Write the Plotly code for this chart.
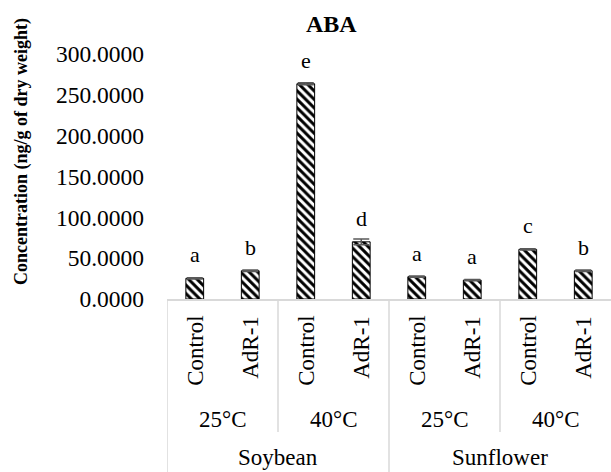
import plotly.graph_objects as go

# ---- data ----
species = ["Soybean", "Soybean", "Soybean", "Soybean",
           "Sunflower", "Sunflower", "Sunflower", "Sunflower"]
temps = ["25°C", "25°C", "40°C", "40°C", "25°C", "25°C", "40°C", "40°C"]
treatments = ["Control", "AdR-1", "Control", "AdR-1",
              "Control", "AdR-1", "Control", "AdR-1"]
values = [25.3, 34.6, 263.5, 70.0, 27.3, 23.2, 60.8, 34.6]
errors = [0.8, 1.0, 1.2, 3.5, 0.8, 0.8, 0.8, 1.0]
letters = ["a", "b", "e", "d", "a", "a", "c", "b"]
y_ticks = [0, 50, 100, 150, 200, 250, 300]

# ---- layout geometry (pixels) ----
W_FIG, H_FIG = 611, 472
L, R, T, B = 167, 0, 54, 173
PW = W_FIG - L - R
PH = H_FIG - T - B
FONT = "Liberation Serif"
GRID = "#d9d9d9"


def px_to_paper_y(py):
    return (H_FIG - B - py) / PH


def px_to_paper_x(px):
    return (px - L) / PW


xs = list(range(len(values)))

fig = go.Figure()
fig.add_trace(go.Bar(
    x=xs, y=values, width=0.32,
    marker=dict(
        color="white",
        line=dict(color="black", width=1),
        pattern=dict(shape="\\", fgcolor="black", bgcolor="white",
                     size=6, solidity=0.5, fillmode="replace"),
    ),
    error_y=dict(type="data", array=errors, visible=True,
                 color="#595959", thickness=1.5, width=8),
    showlegend=False,
))

annotations = []
# significance letters
for x, v, lt in zip(xs, values, letters):
    annotations.append(dict(x=x, y=v, xref="x", yref="y", text=lt,
                            showarrow=False, xanchor="center", yanchor="bottom",
                            yshift=9,
                            font=dict(family=FONT, size=22, color="black")))
# treatment labels (rotated)
for x, tr in zip(xs, treatments):
    annotations.append(dict(x=x, y=px_to_paper_y(314), xref="x", yref="paper",
                            text=tr, showarrow=False, textangle=-90,
                            yanchor="top", xanchor="center",
                            font=dict(family=FONT, size=23, color="black")))


def groups(labels):
    out = []
    start = 0
    for i in range(1, len(labels) + 1):
        if i == len(labels) or labels[i] != labels[start]:
            out.append((labels[start], start, i - 1))
            start = i
    return out


temp_keys = [s + "|" + t for s, t in zip(species, temps)]
temp_groups = groups(temp_keys)
sp_groups = groups(species)

for key, a, b in temp_groups:
    annotations.append(dict(x=(a + b) / 2, y=px_to_paper_y(419), xref="x",
                            yref="paper", text=key.split("|")[1],
                            showarrow=False, xanchor="center", yanchor="middle",
                            font=dict(family=FONT, size=23, color="black")))
for name, a, b in sp_groups:
    annotations.append(dict(x=(a + b) / 2, y=px_to_paper_y(457), xref="x",
                            yref="paper", text=name, showarrow=False,
                            xanchor="center", yanchor="middle",
                            font=dict(family=FONT, size=23, color="black")))

# title and y-axis title
annotations.append(dict(x=px_to_paper_x(331), y=px_to_paper_y(24), xref="paper",
                        yref="paper", text="<b>ABA</b>", showarrow=False,
                        xanchor="center", yanchor="middle",
                        font=dict(family=FONT, size=24, color="black")))
annotations.append(dict(x=px_to_paper_x(21.5), y=px_to_paper_y(151.5),
                        xref="paper", yref="paper",
                        text="<b>Concentration (ng/g of dry weight)</b>",
                        showarrow=False, textangle=-90,
                        xanchor="center", yanchor="middle",
                        font=dict(family=FONT, size=18, color="black")))

# category separators
shapes = []
shapes.append(dict(type="line", xref="x", yref="paper", x0=-0.5, x1=-0.5,
                   y0=0, y1=px_to_paper_y(H_FIG + 5),
                   line=dict(color=GRID, width=1.5)))
for key, a, b in temp_groups[:-1]:
    if species[b] == species[b + 1]:
        shapes.append(dict(type="line", xref="x", yref="paper", x0=b + 0.5,
                           x1=b + 0.5, y0=0, y1=px_to_paper_y(432),
                           line=dict(color=GRID, width=1.5)))
for name, a, b in sp_groups[:-1]:
    shapes.append(dict(type="line", xref="x", yref="paper", x0=b + 0.5,
                       x1=b + 0.5, y0=0, y1=px_to_paper_y(H_FIG + 5),
                       line=dict(color=GRID, width=1.5)))

fig.update_layout(
    width=W_FIG, height=H_FIG, autosize=False,
    margin=dict(l=L, r=R, t=T, b=B, pad=0),
    paper_bgcolor="white", plot_bgcolor="white",
    annotations=annotations, shapes=shapes,
    xaxis=dict(range=[-0.5, len(values) - 0.5], showticklabels=False,
               showgrid=False, zeroline=False, showline=True,
               linecolor=GRID, linewidth=1.5, ticks=""),
    yaxis=dict(range=[0, 300], tickvals=y_ticks, tickformat=".4f",
               showgrid=False, zeroline=False, showline=False, ticks="",
               ticklabelstandoff=22,
               tickfont=dict(family=FONT, size=23.5, color="black")),
    font=dict(family=FONT, color="black"),
)

fig.write_html(
    "out.html",
    config={"displayModeBar": False},
    post_script="document.body.style.margin='0';"
                "document.body.style.overflow='hidden';",
)
